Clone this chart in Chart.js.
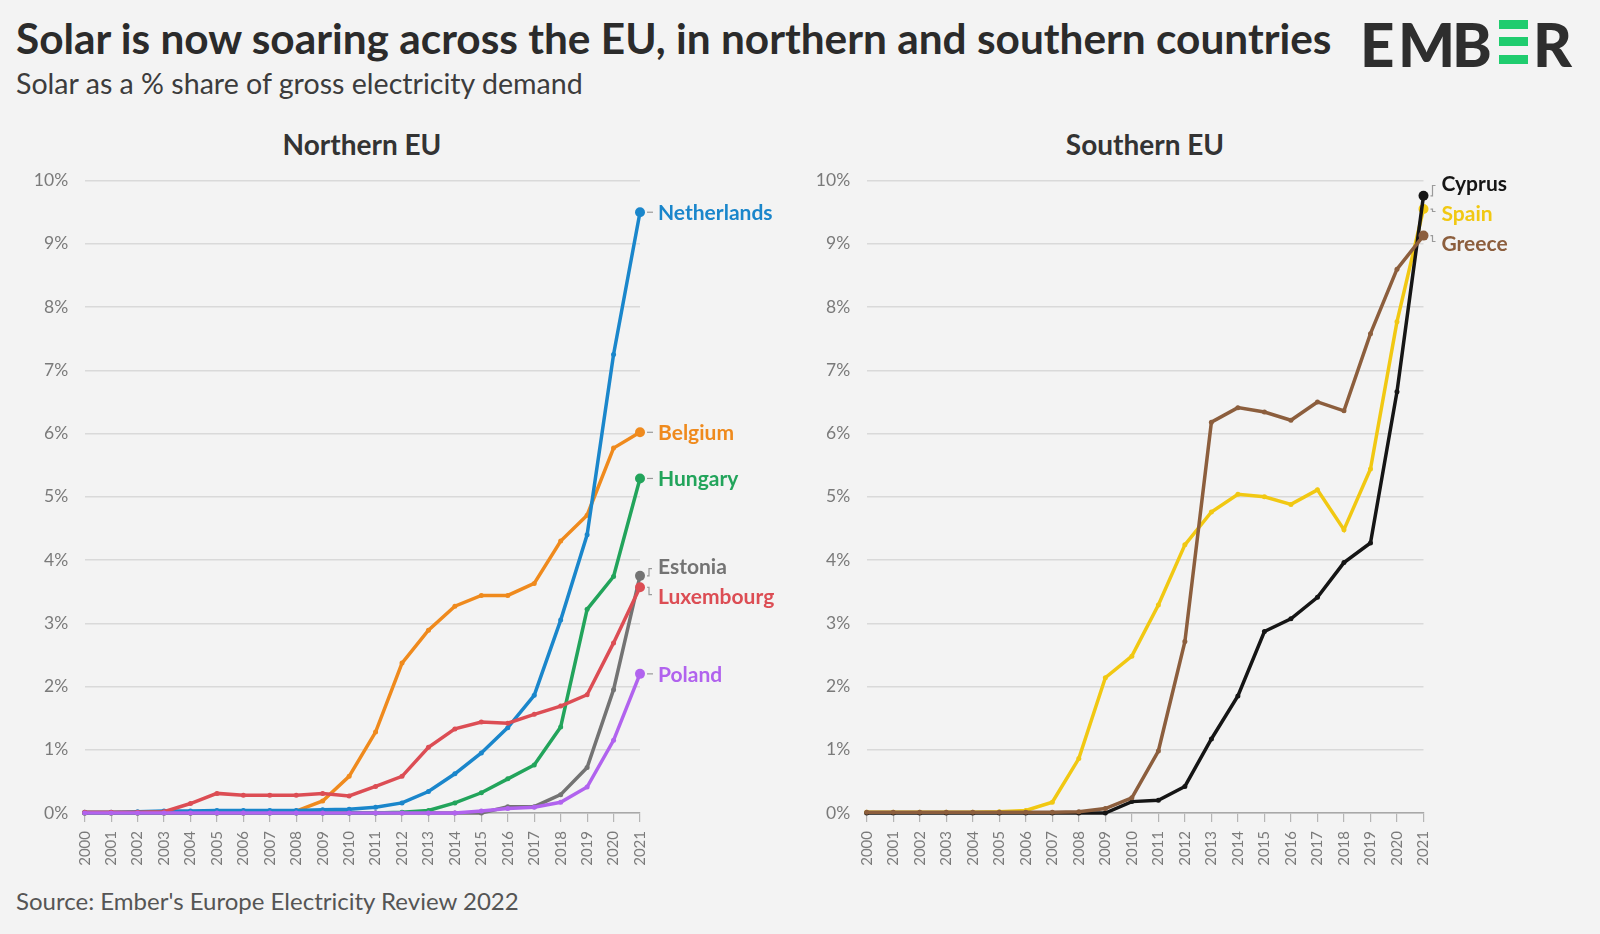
<!DOCTYPE html>
<html>
<head>
<meta charset="utf-8">
<script src="https://cdn.jsdelivr.net/npm/chart.js@4.4.1/dist/chart.umd.min.js"></script>
<style>
  html,body{margin:0;padding:0;background:#f3f3f3;}
  #page{position:relative;width:1600px;height:934px;overflow:hidden;background:#f3f3f3;font-family:Lato,"Noto Sans",sans-serif;}
  .abs{position:absolute;white-space:nowrap;}
  #title{left:16px;top:17px;font-size:38px;font-weight:700;color:#2b2b2b;line-height:1;}
  #subtitle{left:16px;top:69px;font-size:26px;font-weight:400;color:#3c3c3c;line-height:1;}
  #source{left:16px;top:889px;font-size:23px;color:#555;line-height:1;}
  .ctitle{top:130px;font-size:28px;font-weight:700;color:#333;line-height:1;transform:translateX(-50%);}
  canvas{position:absolute;}
  .logo{position:absolute;font-family:Lato,sans-serif;font-weight:900;color:#2e2e2e;line-height:1;}
  .bar{position:absolute;background:#1fcc6e;}
</style>
</head>
<body>
<div id="page">
  <div id="title" class="abs">Solar is now soaring across the EU, in northern and southern countries</div>
  <div id="subtitle" class="abs">Solar as a % share of gross electricity demand</div>
  <div id="logo"></div>
  <div class="abs ctitle" style="left:362px">Northern EU</div>
  <div class="abs ctitle" style="left:1145px">Southern EU</div>
  <canvas id="north" width="800" height="723" style="left:0;top:150px;width:800px;height:723px"></canvas>
  <canvas id="south" width="818" height="723" style="left:782px;top:150px;width:818px;height:723px"></canvas>
  <div id="source" class="abs">Source: Ember's Europe Electricity Review 2022</div>
</div>
<script>
// ---------- data ----------
const years = ['2000','2001','2002','2003','2004','2005','2006','2007','2008','2009','2010','2011','2012','2013','2014','2015','2016','2017','2018','2019','2020','2021'];
const yTicks = [0,1,2,3,4,5,6,7,8,9,10];

const northernCountries = ['Netherlands','Belgium','Hungary','Estonia','Luxembourg','Poland'];
const netherlands = [0.01,0.01,0.02,0.03,0.03,0.04,0.04,0.04,0.04,0.05,0.06,0.09,0.16,0.34,0.62,0.95,1.35,1.86,3.05,4.40,7.25,9.50];
const belgium     = [0,0,0,0,0,0,0,0.01,0.03,0.19,0.58,1.28,2.37,2.89,3.27,3.44,3.44,3.63,4.30,4.71,5.77,6.02];
const hungary     = [0,0,0,0,0,0,0,0,0,0,0,0,0.01,0.04,0.16,0.32,0.54,0.76,1.36,3.22,3.74,5.29];
const estonia     = [0,0,0,0,0,0,0,0,0,0,0,0,0,0,0,0,0.10,0.10,0.29,0.72,1.95,3.75];
const luxembourg  = [0.01,0.01,0.01,0.02,0.15,0.31,0.28,0.28,0.28,0.31,0.27,0.42,0.58,1.04,1.33,1.44,1.42,1.56,1.69,1.87,2.69,3.57];
const poland      = [0,0,0,0,0,0,0,0,0,0,0,0,0,0,0,0.03,0.07,0.09,0.17,0.41,1.15,2.20];

const southernCountries = ['Cyprus','Spain','Greece'];
const cyprus = [0,0,0,0,0,0,0,0,0,0,0.18,0.20,0.42,1.17,1.85,2.87,3.07,3.41,3.96,4.27,6.66,9.76];
const spain  = [0.01,0.01,0.01,0.01,0.01,0.02,0.04,0.17,0.86,2.14,2.48,3.29,4.24,4.76,5.04,5.00,4.88,5.11,4.48,5.44,7.77,9.55];
const greece = [0.01,0.01,0.01,0.01,0.01,0.01,0.01,0.01,0.02,0.07,0.24,0.98,2.71,6.18,6.41,6.34,6.21,6.50,6.36,7.58,8.60,9.13];

const northernColors = ['#1a86cb','#ef8a1d','#22a45b','#737373','#dc4d54','#b163ee'];
const southernColors = ['#151515','#f1c812','#8c5e3d'];

// ---------- logo ----------
(function(){
  const logo = document.getElementById('logo');
  const letters = [['E',1360],['M',1398],['B',1452],['R',1533]];
  letters.forEach(([ch,x])=>{
    const s=document.createElement('span');
    s.className='logo'; s.textContent=ch;
    s.style.left=x+'px'; s.style.top='14px'; s.style.fontSize='60px';
    logo.appendChild(s);
  });
  [20,37,55].forEach(t=>{
    const b=document.createElement('div');
    b.className='bar'; b.style.left='1499px'; b.style.top=t+'px';
    b.style.width='29px'; b.style.height='9px';
    logo.appendChild(b);
  });
})();

function fitWidth(id, target){
  const el=document.getElementById(id);
  const w=el.getBoundingClientRect().width;
  const fs=parseFloat(getComputedStyle(el).fontSize);
  el.style.fontSize=(fs*target/w)+'px';
}
fitWidth('title',1316);
fitWidth('subtitle',567);
fitWidth('source',503);

// ---------- end-label plugin ----------
const endLabels = {
  id:'endLabels',
  afterDatasetsDraw(chart){
    const ctx=chart.ctx;
    const items=[];
    chart.data.datasets.forEach((ds,i)=>{
      const meta=chart.getDatasetMeta(i);
      const pt=meta.data[meta.data.length-1];
      items.push({label:ds.label,color:ds.borderColor,x:pt.x,py:pt.y,y:pt.y});
    });
    const gap=30;
    items.sort((a,b)=>a.py-b.py);
    let groups=items.map(it=>({items:[it]}));
    const place=g=>{
      const mean=g.items.reduce((s,it)=>s+it.py,0)/g.items.length;
      const start=mean-(g.items.length-1)*gap/2;
      g.items.forEach((it,k)=>it.y=start+k*gap);
    };
    groups.forEach(place);
    let changed=true;
    while(changed){
      changed=false;
      for(let k=0;k<groups.length-1;k++){
        const a=groups[k],b=groups[k+1];
        if(b.items[0].y-a.items[a.items.length-1].y<gap){
          a.items=a.items.concat(b.items);
          groups.splice(k+1,1);
          place(a);changed=true;break;
        }
      }
    }
    ctx.save();
    ctx.font='bold 21px Lato, sans-serif';
    ctx.textBaseline='middle';
    items.forEach(it=>{
      ctx.strokeStyle='#9a9a9a';
      ctx.lineWidth=1.2;
      ctx.beginPath();
      if(Math.abs(it.y-it.py)<2){
        ctx.moveTo(it.x+7,it.py);ctx.lineTo(it.x+13,it.py);
      }else{
        const dir=Math.sign(it.y-it.py);
        ctx.moveTo(it.x+7,it.py);
        ctx.lineTo(it.x+9,it.py);
        ctx.lineTo(it.x+9,it.y-dir*2);
        ctx.lineTo(it.x+12,it.y-dir*2);
      }
      ctx.stroke();
      ctx.fillStyle=it.color;
      ctx.fillText(it.label,it.x+18,it.y+1);
    });
    ctx.restore();
  }
};

function makeChart(id, names, series, colors, padRight, orderTop){
  const datasets=series.map((d,i)=>({
    label:names[i],
    data:d,
    borderColor:colors[i],
    backgroundColor:colors[i],
    borderWidth:3.5,
    tension:0,
    pointRadius:c=>c.dataIndex===d.length-1?5:2.5,
    pointBorderWidth:0,
    pointHoverRadius:5,
    order:orderTop[i],
    clip:false
  }));
  return new Chart(document.getElementById(id),{
    type:'line',
    data:{labels:years,datasets},
    plugins:[endLabels],
    options:{
      responsive:false,
      animation:false,
      devicePixelRatio:1,
      layout:{padding:{top:30.6,right:padRight,left:0,bottom:0}},
      plugins:{legend:{display:false},tooltip:{enabled:false},title:{display:false}},
      scales:{
        x:{
          offset:false,
          grid:{display:true,drawOnChartArea:false,drawTicks:true,tickLength:9,color:'#b5b5b5',lineWidth:1.2},
          border:{display:true,color:'#a8a8a8',width:1.5},
          ticks:{minRotation:90,maxRotation:90,autoSkip:false,font:{family:'Lato',size:15},color:'#7a7a7a',padding:9},
          afterFit(s){s.height=60;}
        },
        y:{
          min:0,max:10,
          afterBuildTicks(s){s.ticks=yTicks.map(v=>({value:v}));},
          ticks:{callback:v=>v+'%',font:{family:'Lato',size:17.5},color:'#7a7a7a',padding:16.5},
          grid:{color:'#d9d9d9',lineWidth:1.5,drawTicks:false},
          border:{display:false},
          afterFit(s){s.width=84.7;}
        }
      }
    }
  });
}

makeChart('north', northernCountries,
  [netherlands,belgium,hungary,estonia,luxembourg,poland],
  northernColors, 160, [2,5,3,4,1,0]);
makeChart('south', southernCountries,
  [cyprus,spain,greece],
  southernColors, 1600-782-641.5, [1,2,0]);
</script>
</body>
</html>
